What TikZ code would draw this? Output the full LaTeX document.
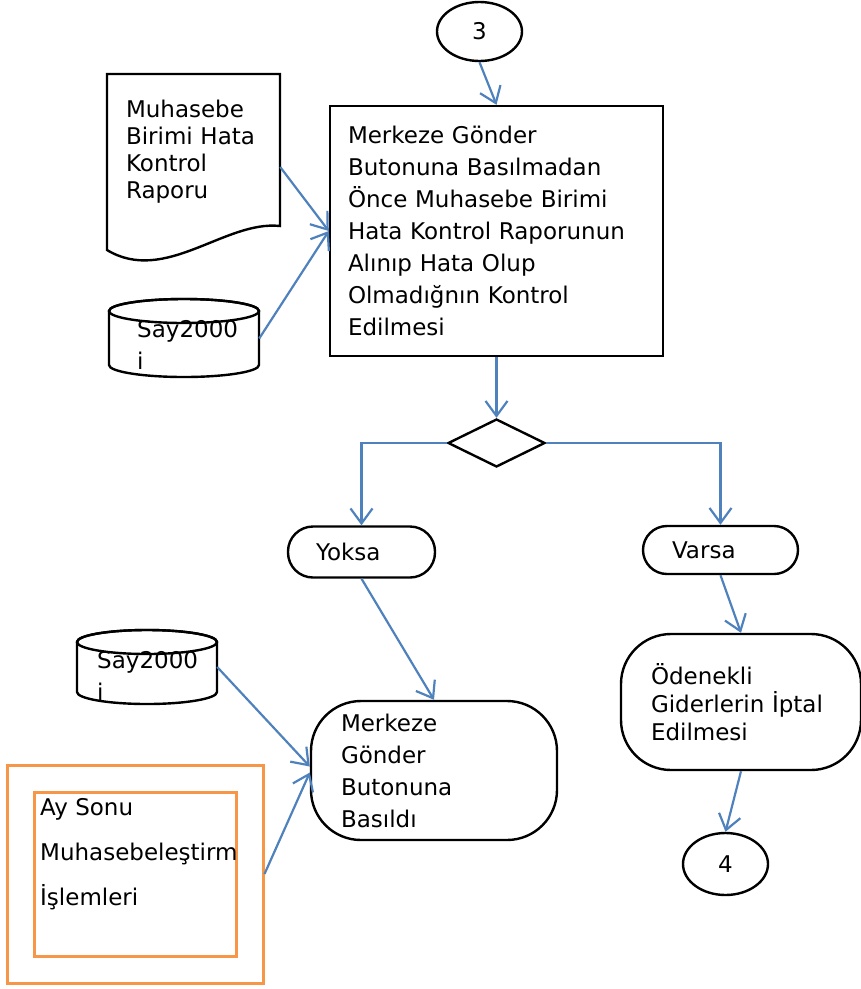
\documentclass[tikz,border=0pt]{standalone}
\usepackage{fontspec}
\setmainfont{DejaVu Sans}
\usetikzlibrary{arrows.meta,shapes.geometric,positioning}
\definecolor{okmavi}{RGB}{79,129,189}
\definecolor{turuncu}{RGB}{247,150,70}

\begin{document}
\begin{tikzpicture}[x=1pt, y=-1pt, font=\fontsize{23}{32}\selectfont,
    kutu/.style={draw, line width=2.4pt, align=left, inner sep=0pt},
    baglac/.style={ellipse, draw, line width=2.4pt, inner sep=0pt},
    veri/.style={inner sep=0pt},
    silindir/.style={line width=2.4pt},
    cerceve/.style={draw=turuncu, line width=3pt, inner sep=0pt},
    okcizgi/.style={okmavi, line width=2.2pt, -{Straight Barb[length=15pt,width=22pt]}}]
  \useasboundingbox (0,0) rectangle (861,989);

  % ust kisim
  \node[baglac, minimum width=85pt, minimum height=59pt] (uc) at (479.5,31.5) {3};
  \node[kutu, minimum width=333pt, minimum height=250pt, text width=297pt] (kontrol) at (496.5,231)
    {Merkeze Gönder\\Butonuna Basılmadan\\Önce Muhasebe Birimi\\Hata Kontrol Raporunun\\Alınıp Hata Olup\\Olmadığnın Kontrol\\Edilmesi};
  \node[align=left, inner sep=0pt, minimum width=173pt, minimum height=152pt, text width=135pt,
    font=\fontsize{23}{27}\selectfont] (rapor) at (193.5,152)
    {Muhasebe\\Birimi Hata\\Kontrol\\Raporu};
  \draw[line width=2.4pt] (107,74) -- (280,74) -- (280,226)
    .. controls +(-55,-6) and +(58,35) .. (107,250) -- cycle;
  \node[veri, minimum width=150pt, minimum height=77pt] (veri1) at (184,338.5) {};
  \begin{scope}
    \clip (109,311) -- (109,365) arc[start angle=180, end angle=0, x radius=75, y radius=12]
      -- (259,311) arc[start angle=0, end angle=-180, x radius=75, y radius=12] -- cycle;
    \node[anchor=base west, inner sep=0pt, align=left] (metin1) at (137,369) {Say2000\\i};
  \end{scope}
  \draw[silindir] (109,311) -- (109,365) arc[start angle=180, end angle=0, x radius=75, y radius=12]
    -- (259,311) arc[start angle=0, end angle=-180, x radius=75, y radius=12];
  \draw[silindir] (184,311) ellipse[x radius=75, y radius=12];

  % karar
  \node[diamond, draw, line width=2.4pt, inner sep=0pt, minimum width=97pt, minimum height=48pt] (karar) at (496.5,443) {};
  \node[kutu, rounded corners=25pt, minimum width=147pt, minimum height=51pt, text width=91pt] (yok) at (361.5,552) {Yoksa};
  \node[kutu, rounded corners=24pt, minimum width=155pt, minimum height=48pt, text width=97pt] (var) at (720.5,550) {Varsa};

  % alt kisim
  \node[kutu, rounded corners=50pt, minimum width=246pt, minimum height=139pt, text width=186pt] (buton) at (434,770.5)
    {Merkeze\\Gönder\\Butonuna\\Basıldı};
  \node[kutu, rounded corners=50pt, minimum width=240pt, minimum height=136pt, text width=180pt,
    font=\fontsize{23}{28}\selectfont] (ode) at (741,702)
    {Ödenekli\\Giderlerin İptal\\Edilmesi};
  \node[baglac, minimum width=85pt, minimum height=62pt] (dort) at (725.5,864) {4};
  \node[veri, minimum width=140pt, minimum height=74pt] (veri2) at (147,667) {};
  \begin{scope}
    \clip (77,642) -- (77,692) arc[start angle=180, end angle=0, x radius=70, y radius=12]
      -- (217,642) arc[start angle=0, end angle=-180, x radius=70, y radius=12] -- cycle;
    \node[anchor=base west, inner sep=0pt, align=left] (metin2) at (97,700) {Say2000\\i};
  \end{scope}
  \draw[silindir] (77,642) -- (77,692) arc[start angle=180, end angle=0, x radius=70, y radius=12]
    -- (217,642) arc[start angle=0, end angle=-180, x radius=70, y radius=12];
  \draw[silindir] (147,642) ellipse[x radius=70, y radius=12];
  \node[cerceve, minimum width=256pt, minimum height=218pt] (islem) at (135,874) {};
  \node[cerceve, minimum width=202pt, minimum height=164pt] (icerik) at (135,874) {};
  \begin{scope}
    \clip (icerik.north west) rectangle (icerik.south east);
    \node[anchor=base west, inner sep=0pt, align=left, font=\fontsize{23}{45}\selectfont]
      (metin3) at (40,905) {Ay Sonu\\Muhasebeleştirm\\İşlemleri};
  \end{scope}

  % oklar
  \draw[okcizgi] (uc.south) -- (kontrol.north);
  \draw[okcizgi] ([yshift=-15pt]rapor.east) -- (kontrol.west);
  \draw[okcizgi] (veri1.east) -- (kontrol.west);
  \draw[okcizgi] (kontrol.south) -- (karar.north);
  \draw[okcizgi] (karar.west) -| (yok.north);
  \draw[okcizgi] (karar.east) -| (var.north);
  \draw[okcizgi] (yok.south) -- (buton.north);
  \draw[okcizgi] (veri2.east) -- ([yshift=4pt]buton.west);
  \draw[okcizgi] (islem.east) -- ([yshift=-2pt]buton.west);
  \draw[okcizgi] (var.south) -- (ode.north);
  \draw[okcizgi] (ode.south) -- (dort.north);
\end{tikzpicture}
\end{document}
